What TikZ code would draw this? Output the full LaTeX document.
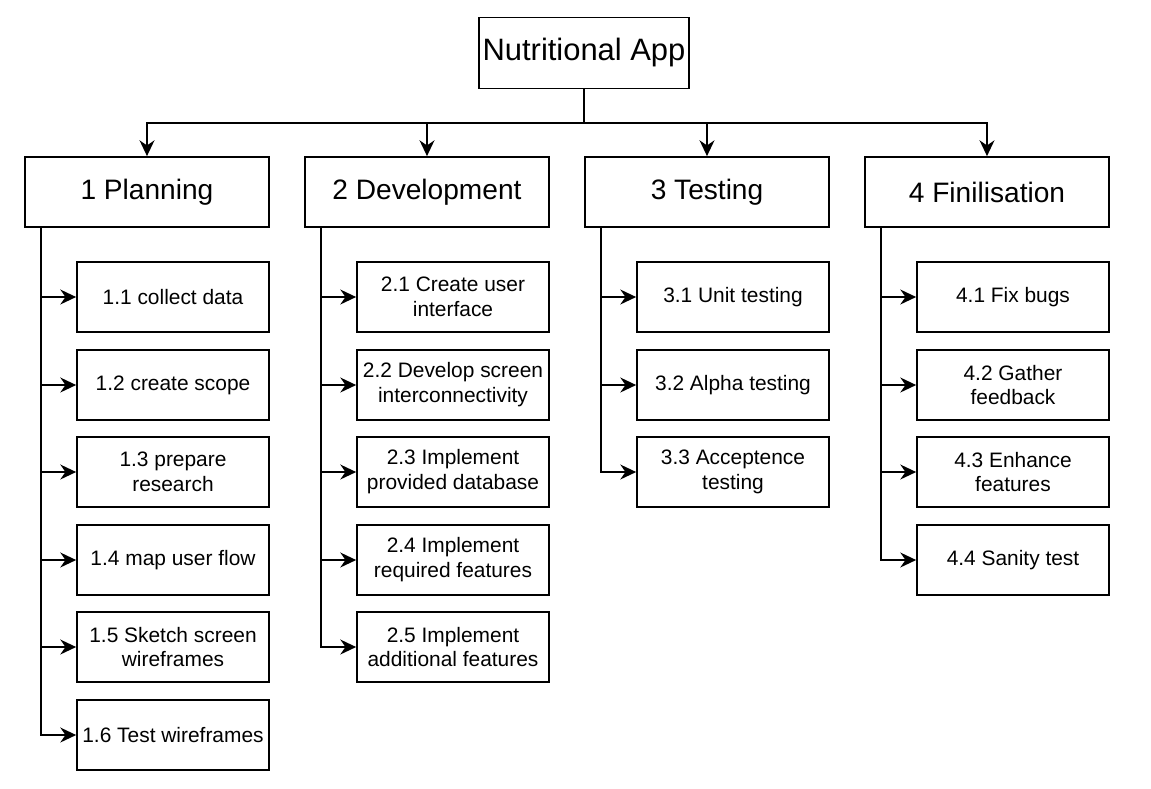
\documentclass[tikz,border=0pt]{standalone}
\usepackage{fontspec}
\setmainfont{Liberation Sans}
\usetikzlibrary{arrows.meta}

\tikzset{
  appbox/.style={draw, line width=1pt, minimum width=4.2cm, minimum height=1.42cm, inner xsep=1pt, font=\fontsize{17.6}{21}\selectfont},
  phasebox/.style={draw, line width=1pt, minimum width=4.88cm, minimum height=1.4cm, font=\fontsize{16}{19}\selectfont},
  taskbox/.style={draw, line width=1pt, minimum width=3.84cm, minimum height=1.4cm, align=center, inner sep=1pt, font=\fontsize{11.9}{14.2}\selectfont},
  link/.style={line width=1pt, -{Stealth[length=9pt,width=8.5pt]}}
}

\begin{document}
\begin{tikzpicture}[x=0.02cm, y=-0.02cm]
    \useasboundingbox (0,0) rectangle (1151,788);
    % top
    \node[appbox] (app) at (584,53) {Nutritional App};
    % phases
    \node[phasebox] (p1) at (147,192) {1 Planning};
    \node[phasebox] (p2) at (427,192) {2 Development};
    \node[phasebox] (p3) at (707,192) {3 Testing};
    \node[phasebox] (p4) at (987,192) {4 Finilisation};
    % tasks 1
    \node[taskbox] (t11) at (173,297) {1.1 collect data};
    \node[taskbox] (t12) at (173,385) {1.2 create scope};
    \node[taskbox] (t13) at (173,472) {1.3 prepare\\research};
    \node[taskbox] (t14) at (173,560) {1.4 map user flow};
    \node[taskbox] (t15) at (173,647) {1.5 Sketch screen\\wireframes};
    \node[taskbox] (t16) at (173,735) {1.6 Test wireframes};
    % tasks 2
    \node[taskbox] (t21) at (453,297) {2.1 Create user\\interface};
    \node[taskbox] (t22) at (453,385) {2.2 Develop screen\\interconnectivity};
    \node[taskbox] (t23) at (453,472) {2.3 Implement\\provided database};
    \node[taskbox] (t24) at (453,560) {2.4 Implement\\required features};
    \node[taskbox] (t25) at (453,647) {2.5 Implement\\additional features};
    % tasks 3
    \node[taskbox] (t31) at (733,297) {3.1 Unit testing};
    \node[taskbox] (t32) at (733,385) {3.2 Alpha testing};
    \node[taskbox] (t33) at (733,472) {3.3 Acceptence\\testing};
    % tasks 4
    \node[taskbox] (t41) at (1013,297) {4.1 Fix bugs};
    \node[taskbox] (t42) at (1013,385) {4.2 Gather\\feedback};
    \node[taskbox] (t43) at (1013,472) {4.3 Enhance\\features};
    \node[taskbox] (t44) at (1013,560) {4.4 Sanity test};
    % top links
    \draw[link] (app.south) -- ++(0,34) -| (p1.north);
    \draw[link] (app.south) -- ++(0,34) -| (p2.north);
    \draw[link] (app.south) -- ++(0,34) -| (p3.north);
    \draw[link] (app.south) -- ++(0,34) -| (p4.north);
    % planning links
    \draw[link] ([xshift=0.34cm]p1.south west) |- (t11.west);
    \draw[link] ([xshift=0.34cm]p1.south west) |- (t12.west);
    \draw[link] ([xshift=0.34cm]p1.south west) |- (t13.west);
    \draw[link] ([xshift=0.34cm]p1.south west) |- (t14.west);
    \draw[link] ([xshift=0.34cm]p1.south west) |- (t15.west);
    \draw[link] ([xshift=0.34cm]p1.south west) |- (t16.west);
    % development links
    \draw[link] ([xshift=0.34cm]p2.south west) |- (t21.west);
    \draw[link] ([xshift=0.34cm]p2.south west) |- (t22.west);
    \draw[link] ([xshift=0.34cm]p2.south west) |- (t23.west);
    \draw[link] ([xshift=0.34cm]p2.south west) |- (t24.west);
    \draw[link] ([xshift=0.34cm]p2.south west) |- (t25.west);
    % testing links
    \draw[link] ([xshift=0.34cm]p3.south west) |- (t31.west);
    \draw[link] ([xshift=0.34cm]p3.south west) |- (t32.west);
    \draw[link] ([xshift=0.34cm]p3.south west) |- (t33.west);
    % finilisation links
    \draw[link] ([xshift=0.34cm]p4.south west) |- (t41.west);
    \draw[link] ([xshift=0.34cm]p4.south west) |- (t42.west);
    \draw[link] ([xshift=0.34cm]p4.south west) |- (t43.west);
    \draw[link] ([xshift=0.34cm]p4.south west) |- (t44.west);
\end{tikzpicture}
\end{document}
